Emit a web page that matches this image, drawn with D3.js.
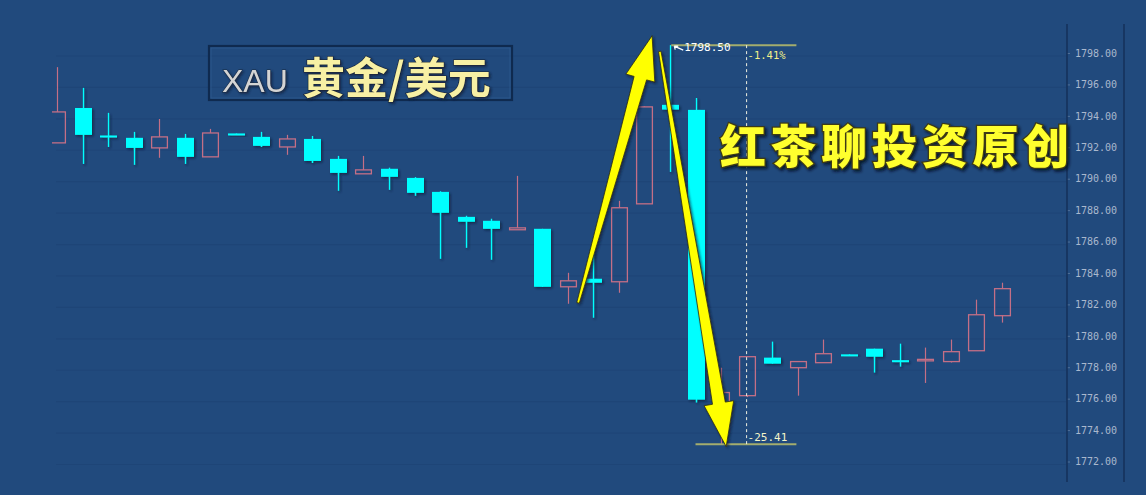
<!DOCTYPE html>
<html><head><meta charset="utf-8">
<script src="https://cdn.jsdelivr.net/npm/d3@7/dist/d3.min.js"></script>
<style>html,body{margin:0;padding:0;background:#214a7d;overflow:hidden}</style>
</head><body>
<svg id="c" width="1146" height="495"></svg>
<script>
// ---- data ----
const opens  = [1792.28,1794.50,1792.75,1792.60,1791.96,1792.60,1791.39,1792.88,1792.66,1792.02,
                1792.53,1791.26,1790.31,1790.63,1790.05,1789.16,1787.57,1787.32,1786.75,1786.81,
                1783.12,1783.63,1783.44,1788.40,1794.70,1794.38,1775.50,1776.19,1778.61,1777.97,
                1778.29,1778.82,1779.18,1778.45,1778.45,1778.36,1779.05,1781.28];
const highs  = [1797.10,1795.78,1794.19,1792.98,1793.80,1792.85,1793.17,1792.88,1792.98,1792.79,
                1792.72,1791.45,1791.45,1790.70,1790.10,1789.20,1787.64,1787.45,1790.18,1786.81,
                1784.01,1785.92,1788.59,1794.60,1798.50,1795.14,1777.97,1778.70,1779.63,1778.36,
                1779.76,1778.82,1779.18,1779.50,1779.25,1779.76,1782.30,1783.38];
const lows   = [1792.28,1790.94,1792.02,1790.88,1791.33,1790.94,1791.39,1792.85,1792.02,1791.52,
                1791.00,1789.23,1790.31,1789.29,1788.91,1784.90,1785.60,1784.84,1786.75,1783.12,
                1782.04,1781.15,1782.74,1788.40,1790.43,1775.75,1773.09,1776.10,1778.23,1776.19,
                1778.29,1778.78,1777.66,1778.04,1777.00,1778.30,1779.05,1780.84];
const closes = [1794.25,1792.79,1792.70,1791.96,1792.66,1791.39,1792.91,1792.85,1792.09,1792.53,
                1791.13,1790.37,1790.56,1790.12,1789.10,1787.83,1787.26,1786.81,1786.87,1783.12,
                1783.50,1783.38,1788.15,1794.57,1794.40,1775.94,1776.39,1778.67,1778.23,1778.36,
                1778.86,1778.78,1778.67,1778.42,1778.50,1778.99,1781.34,1783.00];
const yTicks = [1772,1774,1776,1778,1780,1782,1784,1786,1788,1790,1792,1794,1796,1798];
const peak = 1798.50, trough = 1773.09;
const peakLabel = "1798.50", pctLabel = "-1.41%", diffLabel = "-25.41";
const titleLatin = "XAU", titleCJK = "黄金/美元", watermark = "红茶聊投资原创";
// annotation anchors in data space: [candle index, price]
const arrowUp   = {from:[20.4, 1782.1], to:[23.3, 1799.1]};
const arrowDown = {from:[23.6, 1798.1], to:[26.2, 1772.95]};
const measureIdx = 27;            // dashed vertical line through this candle
const topLineSpan = [24.05, 28.95], botLineSpan = [25.0, 28.95];

// ---- drawing ----
const svg = d3.select("#c");
const W = 1146, H = 495;
const x = d3.scaleLinear().domain([0, opens.length - 1]).range([57, 1002]);
const y = d3.scaleLinear().domain([1772, 1798]).range([461.5, 53]);
const upColor = "#c46f86", downColor = "#00ffff", bg = "#214a7d";

const defs = svg.append("defs");
defs.append("clipPath").attr("id","plot").append("rect").attr("x",52).attr("y",0).attr("width",1014).attr("height",H);
const sh = defs.append("filter").attr("id","sh").attr("x","-20%").attr("y","-20%").attr("width","150%").attr("height","150%");
sh.append("feDropShadow").attr("dx",1.5).attr("dy",1.5).attr("stdDeviation",1).attr("flood-color","#0a1a33").attr("flood-opacity",0.7);
const sh2 = defs.append("filter").attr("id","sh2").attr("x","-20%").attr("y","-20%").attr("width","150%").attr("height","150%");
sh2.append("feDropShadow").attr("dx",2).attr("dy",2).attr("stdDeviation",1.5).attr("flood-color","#05101f").attr("flood-opacity",0.85);

svg.append("rect").attr("width",W).attr("height",H).attr("fill",bg);

// faint grid
svg.append("g").selectAll("line").data(yTicks).join("line")
  .attr("x1",56).attr("x2",1066).attr("y1",d=>y(d)+3).attr("y2",d=>y(d)+3)
  .attr("stroke","#1c4273").attr("stroke-width",1.2).attr("opacity",0.55);

// axis
const axisG = svg.append("g").attr("transform","translate(1067,0)")
  .call(d3.axisRight(y).tickValues(yTicks).tickFormat(d3.format(".2f")).tickSize(3).tickPadding(5));
axisG.select(".domain").remove();
axisG.selectAll(".tick line").attr("stroke","#4f6f98");
axisG.selectAll(".tick text").attr("fill","#a9b8cd").attr("font-family","DejaVu Sans Mono, monospace").attr("font-size",10);
svg.append("line").attr("x1",1067).attr("x2",1067).attr("y1",24).attr("y2",482).attr("stroke","#15305a").attr("stroke-width",1.5);
svg.append("line").attr("x1",1124).attr("x2",1124).attr("y1",24).attr("y2",482).attr("stroke","#15305a").attr("stroke-width",1.5);

// candles
const data = opens.map((o,i)=>({i,o,h:highs[i],l:lows[i],c:closes[i]}));
const bw = 17;
const cg = svg.append("g").attr("clip-path","url(#plot)");
data.forEach(d=>{
  const up = d.c > d.o;
  const top = Math.min(y(d.o), y(d.c)), bot = Math.max(y(d.o), y(d.c));
  const cx = Math.round(x(d.i)) + 0.5;
  if (up) {
    const g = cg.append("g");
    g.append("line").attr("x1",cx).attr("x2",cx).attr("y1",y(d.h)).attr("y2",top).attr("stroke",upColor).attr("stroke-width",1.2);
    g.append("line").attr("x1",cx).attr("x2",cx).attr("y1",bot).attr("y2",y(d.l)).attr("stroke",upColor).attr("stroke-width",1.2);
    g.append("rect").attr("x",cx-bw/2+0.6).attr("y",top).attr("width",bw-1.2).attr("height",Math.max(1.5,bot-top))
      .attr("fill","none").attr("stroke",upColor).attr("stroke-width",1.3);
  } else {
    const g = cg.append("g").attr("filter","url(#sh)");
    g.append("line").attr("x1",cx).attr("x2",cx).attr("y1",y(d.h)).attr("y2",y(d.l)).attr("stroke",downColor).attr("stroke-width",1.3);
    g.append("rect").attr("x",cx-bw/2).attr("y",top).attr("width",bw).attr("height",Math.max(2,bot-top)).attr("fill",downColor);
  }
});

// measurement annotations
const lineCol = "#a3ad6e";
svg.append("line").attr("x1",x(topLineSpan[0])).attr("x2",x(topLineSpan[1])).attr("y1",y(peak)).attr("y2",y(peak))
  .attr("stroke",lineCol).attr("stroke-width",2);
svg.append("line").attr("x1",x(botLineSpan[0])).attr("x2",x(botLineSpan[1])).attr("y1",y(trough)).attr("y2",y(trough))
  .attr("stroke",lineCol).attr("stroke-width",2);
svg.append("line").attr("x1",x(measureIdx)).attr("x2",x(measureIdx)).attr("y1",y(peak)).attr("y2",y(trough))
  .attr("stroke","#f0f0e0").attr("stroke-width",1).attr("stroke-dasharray","3,3");
const px0 = x(topLineSpan[0]) + 2, py0 = y(peak);
svg.append("path").attr("d",`M${px0+10},${py0+5} L${px0+1},${py0+1} M${px0+1},${py0+1} l4,0 M${px0+1},${py0+1} l1,3.5`)
  .attr("stroke","#ffffff").attr("stroke-width",1.2).attr("fill","none");
svg.append("text").attr("x",px0+11).attr("y",py0+6).text(peakLabel)
  .attr("fill","#ffffff").attr("font-family","DejaVu Sans Mono, monospace").attr("font-size",11);
svg.append("text").attr("x",x(measureIdx)+1).attr("y",py0+14).text(pctLabel)
  .attr("fill","#f2f28a").attr("font-family","DejaVu Sans Mono, monospace").attr("font-size",10.5);
svg.append("text").attr("x",x(measureIdx)+1).attr("y",y(trough)-3).text(diffLabel)
  .attr("fill","#f4f4c8").attr("font-family","DejaVu Sans Mono, monospace").attr("font-size",11);

// big yellow arrows
function arrowPath(a){
  const T=[x(a.from[0]),y(a.from[1])], P=[x(a.to[0]),y(a.to[1])];
  const dx=P[0]-T[0], dy=P[1]-T[1], L=Math.hypot(dx,dy);
  const u=[dx/L,dy/L], n=[-u[1],u[0]];
  const hl=44, hw=15, ts=1.3, hs=6.5;
  const B=[P[0]-u[0]*hl, P[1]-u[1]*hl];
  const pt=(p,k)=>[p[0]+n[0]*k,p[1]+n[1]*k];
  const pts=[pt(T,ts),pt(B,hs),pt(B,hw),P,pt(B,-hw),pt(B,-hs),pt(T,-ts)];
  return "M"+pts.map(p=>p[0].toFixed(1)+","+p[1].toFixed(1)).join("L")+"Z";
}
[arrowUp, arrowDown].forEach(a=>{
  svg.append("path").attr("d",arrowPath(a)).attr("fill","#ffff00").attr("stroke","#2b2b10").attr("stroke-width",0.8)
    .attr("filter","url(#sh)");
});

// title box
svg.append("rect").attr("x",209).attr("y",46).attr("width",303).attr("height",54)
  .attr("fill","none").attr("stroke","#0f2a4f").attr("stroke-width",2.2);
svg.append("rect").attr("x",211).attr("y",48).attr("width",299).attr("height",50)
  .attr("fill","none").attr("stroke","#2f5a8e").attr("stroke-width",0.8);
svg.append("text").attr("x",222).attr("y",92).text(titleLatin)
  .attr("font-family","Liberation Sans, Arial, sans-serif").attr("font-size",32)
  .attr("fill","#d4d4d4").attr("stroke","#1a2a40").attr("stroke-width",1).attr("paint-order","stroke").attr("filter","url(#sh)");
svg.append("text").attr("x",302).attr("y",94).text(titleCJK)
  .attr("font-family","Noto Sans CJK SC, sans-serif").attr("font-weight",700).attr("font-size",43)
  .attr("fill","#f7f0a4").attr("stroke","#1a2230").attr("stroke-width",1.2).attr("paint-order","stroke").attr("filter","url(#sh)");

// watermark
svg.append("text").attr("x",720).attr("y",163).text(watermark)
  .attr("font-family","Noto Sans CJK SC, sans-serif").attr("font-weight",900).attr("font-size",46)
  .attr("letter-spacing",4.5)
  .attr("fill","#ffff2e").attr("stroke","#3d3a12").attr("stroke-width",2.5).attr("paint-order","stroke")
  .attr("filter","url(#sh2)");
</script>
</body></html>
